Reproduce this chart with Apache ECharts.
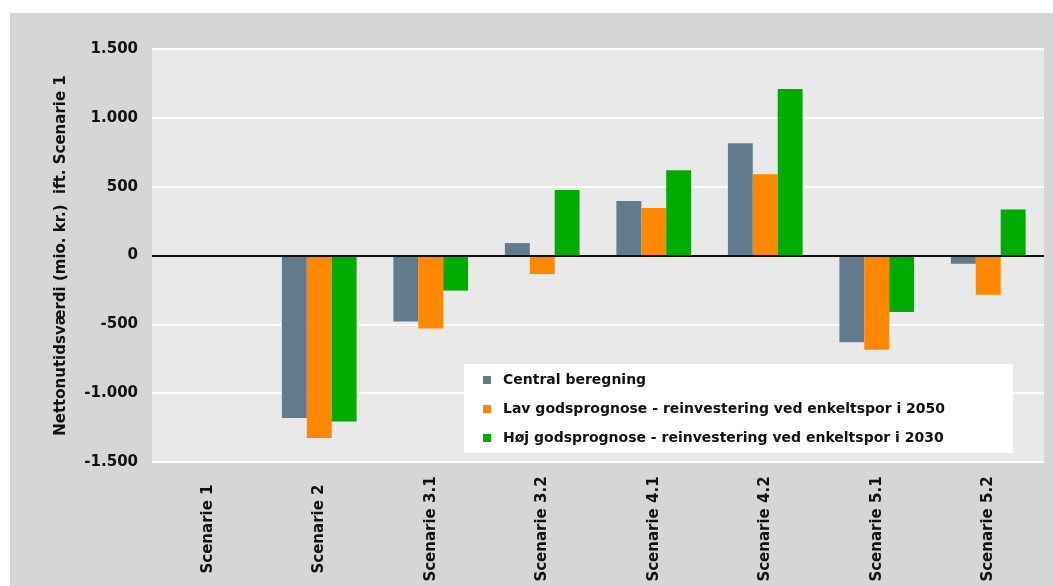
<!DOCTYPE html>
<html>
<head>
<meta charset="utf-8">
<script src="https://cdn.jsdelivr.net/npm/echarts@6/dist/echarts.min.js"></script>
<style>
  html, body { margin: 0; padding: 0; background: #fff; }
  #main { position: absolute; left: 10px; top: 13px; width: 1043px; height: 573px; }
</style>
</head>
<body>
<div id="main"></div>
<script>
// scenarier og værdier (mio. kr.)
var scenarier = ['Scenarie 1', 'Scenarie 2', 'Scenarie 3.1', 'Scenarie 3.2', 'Scenarie 4.1', 'Scenarie 4.2', 'Scenarie 5.1', 'Scenarie 5.2'];
var central = [0, -1180, -480, 90, 395, 815, -630, -60];
var lavGods = [0, -1325, -530, -135, 345, 590, -685, -285];
var hojGods = [0, -1205, -255, 475, 620, 1210, -410, 335];
var serieNavne = [
  'Central beregning',
  'Lav godsprognose - reinvestering ved enkeltspor i 2050',
  'Høj godsprognose - reinvestering ved enkeltspor i 2030'
];
var farver = ['#617a8c', '#ff8800', '#00ac00'];

var font = 'DejaVu Sans';

// dansk talformat: 1.500 / -1.000
var fmt = function (v) {
  var s = Math.abs(v).toString().replace(/\B(?=(\d{3})+(?!\d))/g, '.');
  return (v < 0 ? '-' : '') + s;
};

var lavSerie = function (i, data) {
  var s = {
    name: serieNavne[i],
    type: 'bar',
    data: data,
    barGap: 0,
    barCategoryGap: '33%',
    itemStyle: { color: farver[i] },
    emphasis: { disabled: true }
  };
  if (i === 2) {
    s.markLine = {
      silent: true,
      symbol: 'none',
      label: { show: false },
      lineStyle: { color: '#111', width: 2, type: 'solid' },
      data: [{ yAxis: 0 }]
    };
  }
  return s;
};

var chart = echarts.init(document.getElementById('main'));
var option = {
  backgroundColor: '#d5d6d8',
  animation: false,
  color: farver,
  grid: {
    left: 142, right: 9, top: 36, bottom: 124,
    show: true, backgroundColor: '#e9e9e9', borderWidth: 0
  },
  legend: {
    orient: 'vertical',
    left: 454, top: 351,
    backgroundColor: '#fff',
    padding: [8, 68, 7, 19],
    itemWidth: 8, itemHeight: 8,
    itemGap: 13,
    icon: 'rect',
    data: serieNavne,
    textStyle: { fontFamily: font, fontWeight: 'bold', fontSize: 14, color: '#111', lineHeight: 16, padding: [0, 0, 0, 7] }
  },
  xAxis: {
    type: 'category',
    data: scenarier,
    axisLine: { show: false, onZero: false },
    axisTick: { show: false },
    axisLabel: {
      rotate: 90, align: 'center', verticalAlign: 'middle', margin: 67,
      interval: 0,
      fontFamily: font, fontWeight: 'bold', fontSize: 15, color: '#111'
    }
  },
  yAxis: {
    type: 'value',
    min: -1500, max: 1500, interval: 500,
    name: 'Nettonutidsværdi (mio. kr.)  ift. Scenarie 1',
    nameLocation: 'middle',
    nameGap: 83,
    nameTextStyle: { fontFamily: font, fontWeight: 'bold', fontSize: 15, color: '#111' },
    axisLine: { show: false },
    axisTick: { show: false },
    splitLine: { lineStyle: { color: '#fff', width: 2 } },
    axisLabel: {
      margin: 14,
      formatter: fmt,
      fontFamily: font, fontWeight: 'bold', fontSize: 15, color: '#111'
    }
  },
  series: [lavSerie(0, central), lavSerie(1, lavGods), lavSerie(2, hojGods)]
};
chart.setOption(option);
</script>
</body>
</html>
